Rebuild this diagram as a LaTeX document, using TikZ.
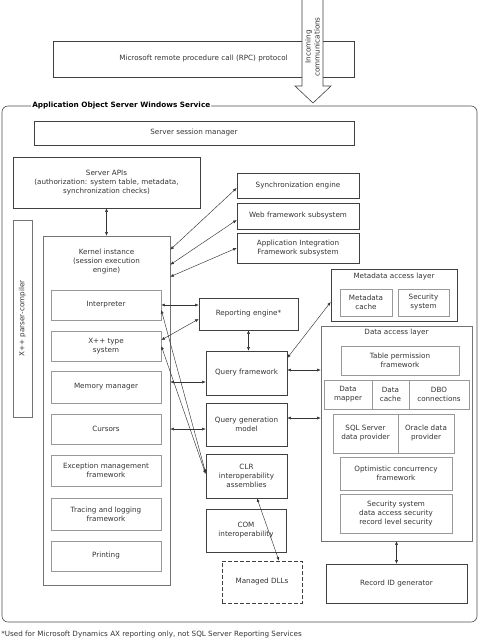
\documentclass[tikz,border=0pt]{standalone}
\usepackage{fontspec}
\setmainfont{DejaVu Sans}
\usepackage{tikz}
\usetikzlibrary{arrows.meta, calc}

\tikzset{
	box/.style={draw=black!75, align=center, inner sep=1pt},
	inbox/.style={draw=black!40, align=center, inner sep=1pt},
	link/.style={{Latex[length=3.6pt,width=3pt]}-{Latex[length=3.6pt,width=3pt]}, draw=black!80, line width=0.45pt},
}

\begin{document}
\begin{tikzpicture}[x=1pt, y=-1pt, font=\fontsize{7.2}{9}\selectfont, text=black!80, line width=0.6pt]
	\useasboundingbox (0,0) rectangle (479,640);

	% outer service frame
	\draw[black!70, rounded corners=6pt] (2,106) rectangle (477,622);
	\node[fill=white, font=\fontsize{7.3}{9}\selectfont\bfseries, text=black, anchor=west, inner sep=1pt] (aos) at (31,106) {Application Object Server Windows Service};

	\node[box, minimum width=301pt, minimum height=36pt] (rpc) at (203.5,59) {Microsoft remote procedure call (RPC) protocol};

	% incoming arrow
	\fill[white] (302,-1) -- (302,86) -- (295,86) -- (313,103) -- (331,86) -- (323,86) -- (323,-1) -- cycle;
	\draw[black!75] (302,-1) -- (302,86) -- (295,86) -- (313,103) -- (331,86) -- (323,86) -- (323,-1);
	\node[rotate=90, align=center, inner sep=0pt] (incoming) at (312.5,47) {Incoming\\communications};

	\node[box, minimum width=320pt, minimum height=24pt] (ssm) at (194,133) {Server session manager};
	\node[box, minimum width=187pt, minimum height=51pt] (api) at (106.5,182.5) {Server APIs\\(authorization: system table, metadata,\\synchronization checks)};
	\node[box, minimum width=19pt, minimum height=197pt, draw=black!55] (parser) at (22.5,318.5) {};
	\node[rotate=90, inner sep=0pt] (parserlbl) at (parser.center) {X++ parser-compiler};

	% kernel and its parts
	\node[box, draw=black!55, minimum width=127pt, minimum height=349pt] (kernel) at (106.5,410.5) {};
	\node[align=center, inner sep=0pt] (kernlbl) at (106.5,262) {Kernel instance\\(session execution\\engine)};
	\node[inbox, minimum width=110pt, minimum height=30pt] (interp) at (106,305) {Interpreter};
	\node[inbox, minimum width=110pt, minimum height=30pt] (xtype) at (106,346) {X++ type\\system};
	\node[inbox, minimum width=110pt, minimum height=32pt] (mem) at (106,387) {Memory manager};
	\node[inbox, minimum width=110pt, minimum height=30pt] (cursors) at (106,429) {Cursors};
	\node[inbox, minimum width=110pt, minimum height=31pt] (exc) at (106,470.5) {Exception management\\framework};
	\node[inbox, minimum width=110pt, minimum height=32pt] (trace) at (106,514) {Tracing and logging\\framework};
	\node[inbox, minimum width=110pt, minimum height=30pt] (print) at (106,556) {Printing};

	% subsystems
	\node[box, minimum width=122pt, minimum height=25pt] (sync) at (298,185.5) {Synchronization engine};
	\node[box, minimum width=122pt, minimum height=26pt] (web) at (298,216) {Web framework subsystem};
	\node[box, minimum width=122pt, minimum height=30pt] (aif) at (298,248) {Application Integration\\Framework subsystem};

	\node[box, minimum width=99pt, minimum height=32pt] (rep) at (248.5,314) {Reporting engine*};
	\node[box, minimum width=81pt, minimum height=44pt] (qf) at (246.5,373) {Query framework};
	\node[box, minimum width=81pt, minimum height=43pt] (qgm) at (246.5,424.5) {Query generation\\model};
	\node[box, minimum width=81pt, minimum height=44pt] (clr) at (246.5,476) {CLR\\interoperability\\assemblies};
	\node[box, minimum width=80pt, minimum height=43pt] (com) at (246,530.5) {COM\\interoperability};
	\node[box, dash pattern=on 4pt off 2pt, minimum width=80pt, minimum height=42pt] (dll) at (262,582) {Managed DLLs};

	% metadata access layer
	\node[box, minimum width=126pt, minimum height=52pt] (mal) at (394,295) {};
	\node[inner sep=0pt] (mallbl) at (394,277) {Metadata access layer};
	\node[inbox, minimum width=52pt, minimum height=27pt] (mcache) at (366,302.5) {Metadata\\cache};
	\node[inbox, minimum width=51pt, minimum height=27pt] (secsys) at (423.5,302.5) {Security\\system};

	% data access layer
	\node[box, draw=black!55, minimum width=151pt, minimum height=215pt] (dal) at (396.5,433.5) {};
	\node[inner sep=0pt] (dallbl) at (396.5,333) {Data access layer};
	\node[inbox, minimum width=118pt, minimum height=29pt] (tpf) at (400,360.5) {Table permission\\framework};
	\node[inbox, minimum width=48pt, minimum height=29pt] (dmap) at (348,394.5) {Data\\mapper};
	\node[inbox, minimum width=37pt, minimum height=29pt] (dcache) at (390.5,394.5) {Data\\cache};
	\node[inbox, minimum width=60pt, minimum height=29pt] (dbo) at (439,394.5) {DBO\\connections};
	\node[inbox, minimum width=65pt, minimum height=39pt] (sqlp) at (365.5,433.5) {SQL Server\\data provider};
	\node[inbox, minimum width=56pt, minimum height=39pt] (orap) at (426,433.5) {Oracle data\\provider};
	\node[inbox, minimum width=112pt, minimum height=33pt] (occ) at (396,473.5) {Optimistic concurrency\\framework};
	\node[inbox, minimum width=112pt, minimum height=39pt] (secda) at (396,513.5) {Security system\\data access security\\record level security};

	\node[box, minimum width=141pt, minimum height=39pt] (rid) at (396.5,583.5) {Record ID generator};

	% connectors
	\draw[link] (api.south) -- (kernel.north);
	\draw[link] ($(kernel.north east)+(0,14)$) -- ($(sync.west)+(0,2.5)$);
	\draw[link] ($(kernel.north east)+(0,29)$) -- ($(web.west)+(0,4)$);
	\draw[link] ($(kernel.north east)+(0,41)$) -- (aif.west);
	\draw[link] (interp.east) -- (rep.west |- interp.east);
	\draw[link] ($(xtype.east)+(0,-6)$) -- ($(rep.west)+(0,5)$);
	\draw[link] (rep.south) -- (rep.south |- qf.north);
	\draw[link] ($(kernel.east |- qf.west)+(0,9)$) -- ($(qf.west)+(0,9)$);
	\draw[link] (kernel.east |- cursors) -- (qgm.west |- cursors);
	\draw[link] ($(qf.east)+(0,-15)$) -- ($(mal.west)+(0,7)$);
	\draw[link] ($(qf.east)+(0,-3)$) -- ($(dal.west |- qf.east)+(0,-3)$);
	\draw[link] ($(qgm.east)+(0,-6.5)$) -- ($(dal.west |- qgm.east)+(0,-6.5)$);
	\draw[link] ($(interp.east)+(0,5)$) -- ($(clr.west)+(0,-3)$);
	\draw[link] (xtype.east) -- ($(clr.west)+(0,-2)$);
	\draw[link] ($(clr.south)+(10.5,0)$) -- ($(dll.north)+(17,0)$);
	\draw[link] (dal.south) -- (rid.north);

	\node[anchor=west, inner sep=0pt] (note) at (1,635) {*Used for Microsoft Dynamics AX reporting only, not SQL Server Reporting Services};
\end{tikzpicture}
\end{document}
